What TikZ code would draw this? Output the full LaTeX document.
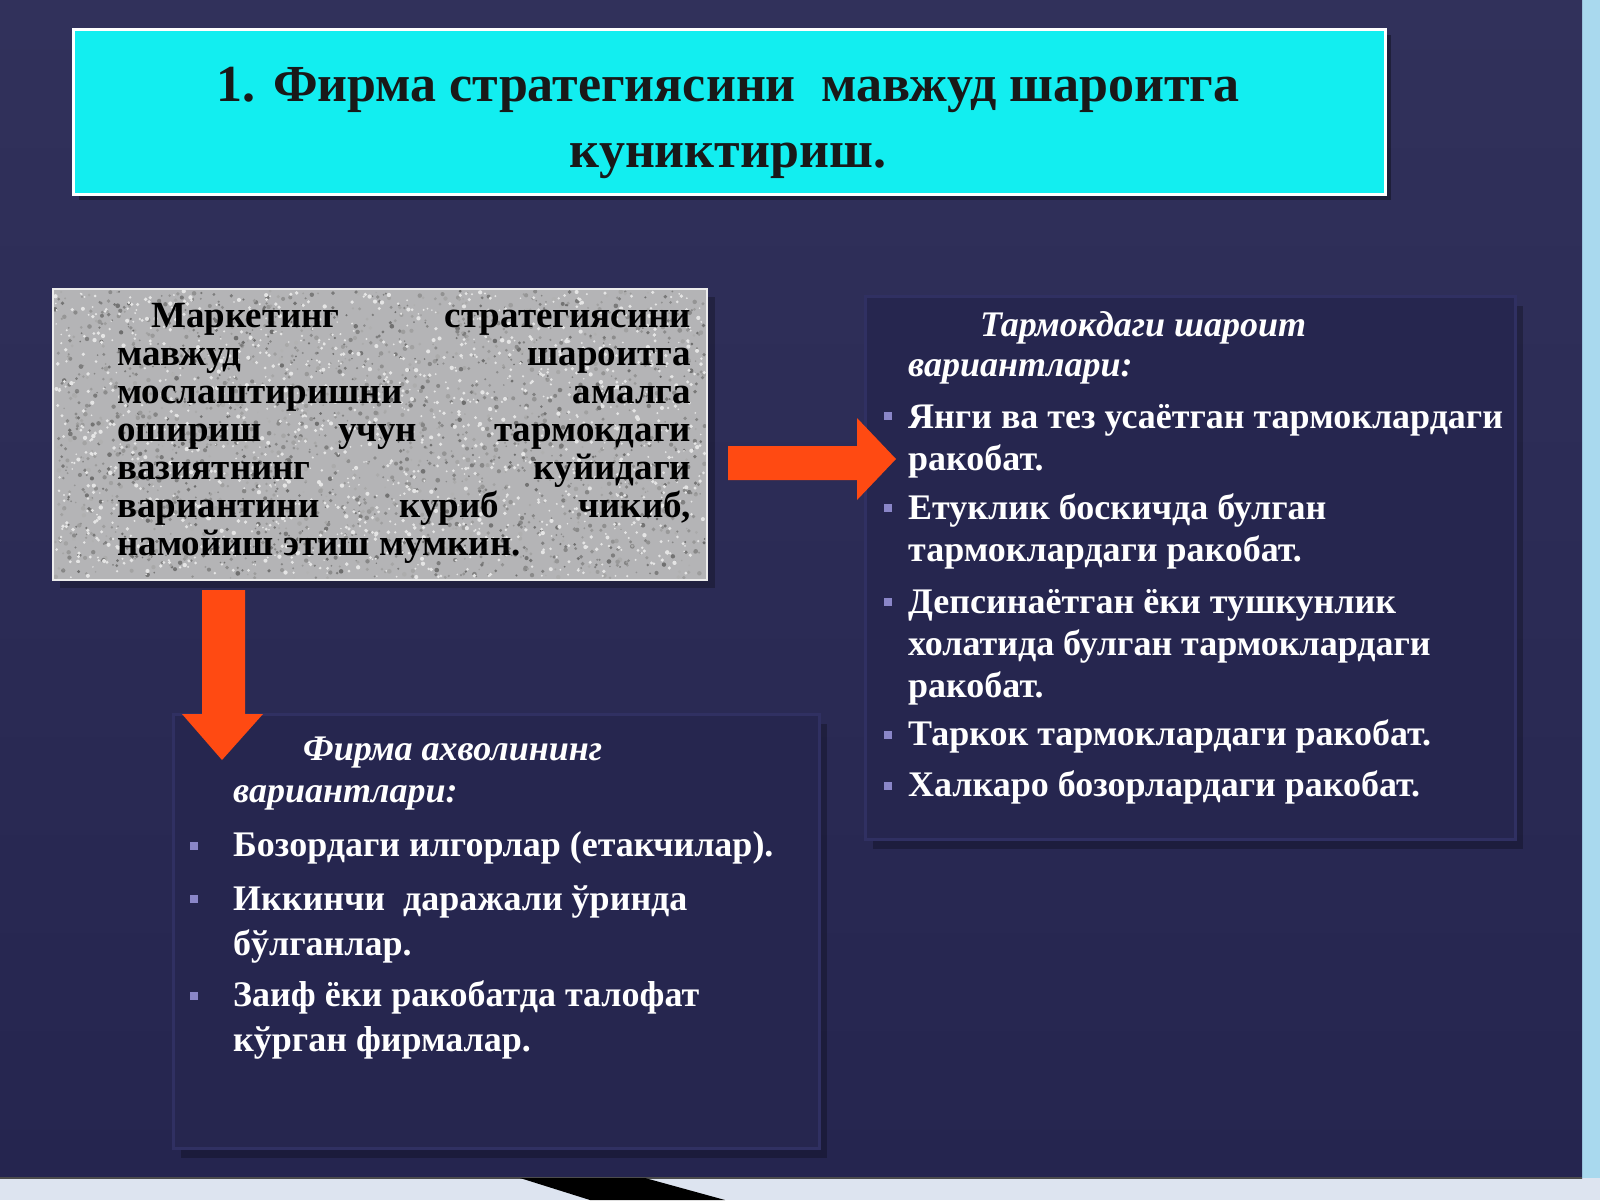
\documentclass[tikz,border=0pt]{standalone}
\usepackage{fontspec}
\setmainfont{Liberation Serif}
\usetikzlibrary{calc}
\definecolor{bgtop}{HTML}{31315B}
\definecolor{bgbot}{HTML}{25254F}
\definecolor{titlecyan}{HTML}{12EEF0}
\definecolor{boxnavy}{HTML}{26264F}
\definecolor{boxedge}{HTML}{303062}
\definecolor{granite}{HTML}{B4B4B6}
\definecolor{arrowred}{HTML}{FF4A12}
\definecolor{bulletc}{HTML}{8A86C8}
\definecolor{stripblue}{HTML}{A9D9EE}
\definecolor{stripgray}{HTML}{DDE4F0}
\tikzset{
  darkbox/.style={fill=boxnavy, draw=boxedge, line width=3pt},
  shadowbox/.style={fill=black, opacity=0.25},
  bodytext/.style={anchor=north west, inner sep=0pt, text=white, align=left,
     font=\fontsize{36}{42}\selectfont\bfseries},
  headtext/.style={anchor=north west, inner sep=0pt, text=white, align=left,
     font=\fontsize{36}{44}\selectfont\bfseries\itshape},
  bulletsq/.style={fill=bulletc, minimum size=8pt, inner sep=0pt},
  bigarrow/.style={fill=arrowred, draw=none}
}
\begin{document}
\begin{tikzpicture}[x=1pt,y=-1pt]
\useasboundingbox (0,0) rectangle (1600,1200);
% background
\fill[stripgray] (0,0) rectangle (1600,1200);
\fill[stripblue] (1582,0) rectangle (1600,1178);
\fill[top color=bgtop, bottom color=bgbot] (0,0) rectangle (1582,1178);
\draw[black!70, line width=1.5pt] (0,1178) -- (1582,1178);
\fill[black] (520,1178) -- (645,1178) -- (725,1200) -- (590,1200) -- cycle;

% title box
\fill[black, opacity=0.35] (79,35) rectangle (1391,200);
\draw[fill=titlecyan, draw=white, line width=3pt] (73,29) rectangle (1385,194);
\node[text=black!90, align=center, inner sep=0pt,
      font=\fontsize{52}{66}\selectfont\bfseries] (title) at (728,123)
  {1. Фирма стратегиясини \ мавжуд шароитга\\куниктириш.};

% granite box
\fill[shadowbox] (60,297) rectangle (715,588);
\fill[granite] (53,289) rectangle (707,580);
\pgfmathsetseed{11}
\foreach \i in {1,...,2200}{
  \pgfmathsetmacro{\xx}{55+650*rnd}
  \pgfmathsetmacro{\yy}{291+287*rnd}
  \pgfmathsetmacro{\rr}{0.8+1.6*rnd}
  \pgfmathsetmacro{\cc}{int(30+28*rnd)}
  \fill[black!\cc] (\xx,\yy) circle (\rr);
}
\foreach \i in {1,...,1400}{
  \pgfmathsetmacro{\xx}{55+650*rnd}
  \pgfmathsetmacro{\yy}{291+287*rnd}
  \pgfmathsetmacro{\rr}{0.8+1.4*rnd}
  \fill[black!10] (\xx,\yy) circle (\rr);
}
\draw[white!85!gray, line width=1.5pt] (53,289) rectangle (707,580);
\node[anchor=north west, inner sep=0pt, text=black, align=left,
      font=\fontsize{37}{38}\selectfont\bfseries] (mk) at (117,303)
  {\hbox to 574pt{\hspace{34pt}Маркетинг\hfill стратегиясини}\\
   \hbox to 574pt{мавжуд\hfill шароитга}\\
   \hbox to 574pt{мослаштиришни\hfill амалга}\\
   \hbox to 574pt{ошириш\hfill учун\hfill тармокдаги}\\
   \hbox to 574pt{вазиятнинг\hfill куйидаги}\\
   \hbox to 574pt{вариантини\hfill куриб\hfill чикиб,}\\
   намойиш этиш мумкин.};

% right box
\fill[shadowbox] (873,306) rectangle (1523,849);
\draw[darkbox] (865,296) rectangle (1515,839);
\node[headtext] (rh1) at (980,311) {Тармокдаги шароит};
\node[headtext] (rh2) at (908,359) {вариантлари:};
\node[bodytext] (r1) at (908,404) {Янги ва тез усаётган тармоклардаги\\ракобат.};
\node[bodytext] (r2) at (908,494) {Етуклик боскичда булган\\тармоклардаги ракобат.};
\node[bodytext] (r3) at (908,589) {Депсинаётган ёки тушкунлик\\холатида булган тармоклардаги\\ракобат.};
\node[bodytext] (r4) at (908,720) {Таркок тармоклардаги ракобат.};
\node[bodytext] (r5) at (908,771) {Халкаро бозорлардаги ракобат.};
\foreach \n/\yy in {b1/416, b2/508, b3/602, b4/735, b5/786}
  \node[bulletsq] (\n) at (888,\yy) {};

% bottom-left box
\fill[shadowbox] (181,724) rectangle (827,1158);
\draw[darkbox] (173,714) rectangle (819,1148);
\node[headtext] (lh1) at (303,737) {Фирма ахволининг};
\node[headtext] (lh2) at (233,785) {вариантлари:};
\node[bodytext] (l1) at (233,831) {Бозордаги илгорлар (етакчилар).};
\node[bodytext, font=\fontsize{36}{45}\selectfont\bfseries] (l2) at (233,885) {Иккинчи \ даражали ўринда\\бўлганлар.};
\node[bodytext, font=\fontsize{36}{45}\selectfont\bfseries] (l3) at (233,981) {Заиф ёки ракобатда талофат\\кўрган фирмалар.};
\foreach \n/\yy in {c1/846, c2/899, c3/996}
  \node[bulletsq] (\n) at (194,\yy) {};

% arrows
\fill[bigarrow] (728,446) -- (857,446) -- (857,418) -- (896,459) -- (857,500) -- (857,480) -- (728,480) -- cycle;
\fill[bigarrow] (202,590) -- (245,590) -- (245,714) -- (263,714) -- (222,760) -- (182,714) -- (202,714) -- cycle;
\end{tikzpicture}
\end{document}
